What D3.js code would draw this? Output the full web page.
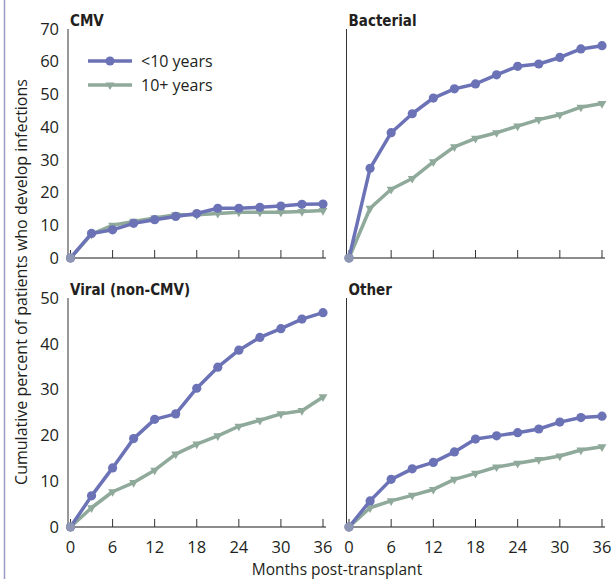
<!DOCTYPE html>
<html>
<head>
<meta charset="utf-8">
<script src="https://cdn.jsdelivr.net/npm/d3@7"></script>
<style>
  body { margin: 0; background: #fff; }
  svg { display: block; }
  text { font-family: "Open Sans", "Noto Sans", sans-serif; fill: #231f20; }
  .title { font-family: "DejaVu Sans Condensed", "Liberation Sans Narrow", sans-serif; font-weight: bold; }
</style>
</head>
<body>
<svg id="chart" width="612" height="579"></svg>
<script>
// Months post-transplant at which cumulative incidence was recorded
const months = [0, 3, 6, 9, 12, 15, 18, 21, 24, 27, 30, 33, 36];
const monthTicks = [0, 6, 12, 18, 24, 30, 36];
const seriesNames = ["<10 years", "10+ years"];

// Cumulative percent of patients who develop infections
const cmvUnder10   = [0, 7.5, 8.6, 10.6, 11.7, 12.7, 13.6, 15.2, 15.2, 15.5, 15.9, 16.4, 16.5];
const cmvOver10    = [0, 7.3, 10.0, 11.2, 12.2, 13.2, 13.2, 13.6, 14.0, 14.0, 14.0, 14.2, 14.5];
const bactUnder10  = [0, 27.4, 38.3, 44.1, 48.9, 51.7, 53.2, 56.0, 58.6, 59.3, 61.3, 63.9, 64.9];
const bactOver10   = [0, 15.2, 21.0, 24.3, 29.4, 34.0, 36.6, 38.3, 40.3, 42.3, 43.8, 46.1, 47.2];
const viralUnder10 = [0, 6.8, 12.9, 19.3, 23.5, 24.7, 30.3, 34.9, 38.6, 41.4, 43.3, 45.4, 46.8];
const viralOver10  = [0, 4.2, 7.7, 9.7, 12.4, 15.9, 18.1, 19.9, 22.0, 23.3, 24.7, 25.4, 28.4];
const otherUnder10 = [0, 5.7, 10.4, 12.7, 14.1, 16.4, 19.2, 19.9, 20.6, 21.4, 22.9, 23.9, 24.2];
const otherOver10  = [0, 4.2, 5.7, 6.9, 8.2, 10.4, 11.7, 13.1, 13.9, 14.7, 15.5, 16.8, 17.5];

const topTicks = [0, 10, 20, 30, 40, 50, 60, 70];
const bottomTicks = [0, 10, 20, 30, 40, 50];

const colorUnder = "#6b72b6";
const colorOver = "#8fa99a";

const svg = d3.select("#chart");

// Outer frame rule on the left edge
svg.append("line")
  .attr("x1", 4.5).attr("x2", 4.5).attr("y1", 0).attr("y2", 579)
  .attr("stroke", "#9a9cc8").attr("stroke-width", 1.5);

const panels = [
  { title: "CMV", under: cmvUnder10, over: cmvOver10, x0: 70.5, x1: 323, y0: 258, y1: 29, max: 70, ticks: topTicks, yLabels: true, xLabels: false, legend: true },
  { title: "Bacterial", under: bactUnder10, over: bactOver10, x0: 349, x1: 602, y0: 258, y1: 29, max: 70, ticks: topTicks, yLabels: false, xLabels: false },
  { title: "Viral (non-CMV)", under: viralUnder10, over: viralOver10, x0: 70.5, x1: 323, y0: 527, y1: 298, max: 50, ticks: bottomTicks, yLabels: true, xLabels: true },
  { title: "Other", under: otherUnder10, over: otherOver10, x0: 349, x1: 602, y0: 527, y1: 298, max: 50, ticks: bottomTicks, yLabels: false, xLabels: true }
];

const triangle = d3.symbol().type(d3.symbolTriangle).size(34);

panels.forEach(p => {
  const x = d3.scaleLinear().domain([0, 36]).range([p.x0, p.x1]);
  const y = d3.scaleLinear().domain([0, p.max]).range([p.y0, p.y1]);
  const g = svg.append("g");

  // x axis: grey baseline with upward ticks
  g.append("line")
    .attr("x1", x(0) - 3).attr("x2", x(36) + 3)
    .attr("y1", y(0)).attr("y2", y(0))
    .attr("stroke", "#8c8c8c").attr("stroke-width", 2);
  g.selectAll(".xt").data(monthTicks).join("line")
    .attr("x1", d => x(d)).attr("x2", d => x(d))
    .attr("y1", y(0)).attr("y2", y(0) - 8)
    .attr("stroke", "#333").attr("stroke-width", 1);
  if (p.xLabels) {
    g.selectAll(".xl").data(monthTicks).join("text")
      .attr("x", d => x(d)).attr("y", y(0) + 26)
      .attr("text-anchor", "middle")
      .attr("font-size", 16.5)
      .text(d => d);
  }

  // y axis line
  g.append("line")
    .attr("x1", x(0) - 2.5).attr("x2", x(0) - 2.5)
    .attr("y1", y(0)).attr("y2", y(p.max))
    .attr("stroke", "#333").attr("stroke-width", 1);
  if (p.yLabels) {
    g.selectAll(".yl").data(p.ticks).join("text")
      .attr("x", 59).attr("y", d => y(d))
      .attr("dy", "0.35em")
      .attr("text-anchor", "end")
      .attr("font-size", 16.5)
      .text(d => d);
  }

  // panel title
  g.append("text").attr("class", "title")
    .attr("x", x(0) - 0.5).attr("y", y(p.max) - 3)
    .attr("font-size", 15)
    .text(p.title);

  const line = d3.line().x((d, i) => x(months[i])).y(d => y(d));

  // 10+ years series
  g.append("path").datum(p.over)
    .attr("d", line).attr("fill", "none")
    .attr("stroke", colorOver).attr("stroke-width", 3.5).attr("stroke-linejoin", "round");
  g.selectAll(".tri").data(p.over).join("path")
    .attr("d", triangle)
    .attr("transform", (d, i) => `translate(${x(months[i])},${y(d)}) rotate(180)`)
    .attr("fill", colorOver);

  // <10 years series
  g.append("path").datum(p.under)
    .attr("d", line).attr("fill", "none")
    .attr("stroke", colorUnder).attr("stroke-width", 3.5).attr("stroke-linejoin", "round");
  g.selectAll(".dot").data(p.under).join("circle")
    .attr("cx", (d, i) => x(months[i])).attr("cy", d => y(d))
    .attr("r", 4.6).attr("fill", colorUnder);

  // shared first point drawn as a muted marker
  g.append("circle").attr("cx", x(0)).attr("cy", y(0)).attr("r", 4.6).attr("fill", "#8d96b3");

  if (p.legend) {
    const items = [
      { name: seriesNames[0], color: colorUnder, marker: "circle" },
      { name: seriesNames[1], color: colorOver, marker: "tri" }
    ];
    items.forEach((it, k) => {
      const ly = 61 + k * 24;
      g.append("line").attr("x1", 88).attr("x2", 132).attr("y1", ly).attr("y2", ly)
        .attr("stroke", it.color).attr("stroke-width", 3.5);
      if (it.marker === "circle") {
        g.append("circle").attr("cx", 110).attr("cy", ly).attr("r", 4.6).attr("fill", it.color);
      } else {
        g.append("path").attr("d", triangle)
          .attr("transform", `translate(110,${ly}) rotate(180)`).attr("fill", it.color);
      }
      g.append("text").attr("x", 141).attr("y", ly).attr("dy", "0.35em")
        .attr("font-size", 16).text(it.name);
    });
  }
});

// Shared axis titles
svg.append("text")
  .attr("transform", "translate(27,282) rotate(-90)")
  .attr("text-anchor", "middle")
  .attr("font-size", 16)
  .text("Cumulative percent of patients who develop infections");

svg.append("text")
  .attr("x", 337).attr("y", 575)
  .attr("text-anchor", "middle")
  .attr("font-size", 15.5)
  .text("Months post-transplant");
</script>
</body>
</html>
